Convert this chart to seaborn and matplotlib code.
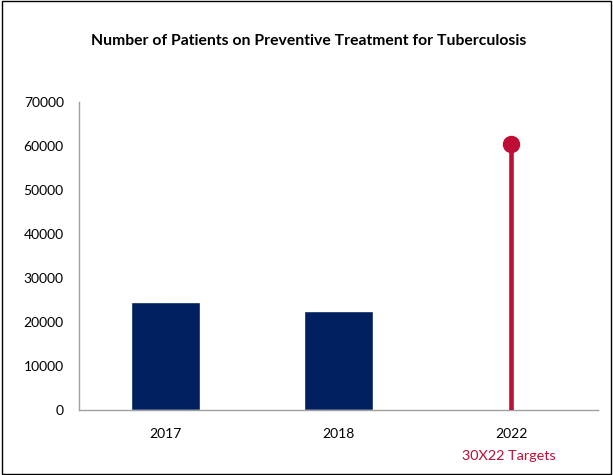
import pandas as pd
import matplotlib.pyplot as plt
import seaborn as sns
import numpy as np
from matplotlib.patches import Rectangle

# data
years = ['2017', '2018', '2022']
patients = [24700, 22600, np.nan]
target_year = '2022'
target_value = 60500
yticks = [0, 10000, 20000, 30000, 40000, 50000, 60000, 70000]

navy = '#002060'
red = '#C00D35'

sns.set_style('white')
plt.rcParams['font.family'] = ['Lato', 'DejaVu Sans']

df = pd.DataFrame({'year': years, 'patients': patients})

fig = plt.figure(figsize=(6.13, 4.75), dpi=100)
ax = fig.add_axes([0.129, 0.136, 0.8465, 0.6485])

sns.barplot(data=df, x='year', y='patients', order=years, color=navy,
            width=0.4, saturation=1, ax=ax)

# target lollipop
xi = years.index(target_year)
ax.vlines(xi, 0, target_value, color=red, linewidth=3.3, zorder=3)
sns.scatterplot(x=[xi], y=[target_value], color=red, s=135, ax=ax,
                zorder=4, edgecolor=red, legend=False)

ax.set_xlim(-0.5, 2.5)
ax.set_ylim(0, 70000)
ax.set_yticks(yticks)
ax.set_yticklabels([str(v) for v in yticks], fontsize=10)
ax.set_xticks(range(len(years)))
ax.set_xticklabels(years, fontsize=10)
ax.set_xticks([-0.5, 0.5, 1.5, 2.5], minor=True)
ax.tick_params(axis='x', which='major', length=0, pad=13, labelcolor='black')
ax.tick_params(axis='x', which='minor', length=4, color='#A0A0A0', width=1)
ax.tick_params(axis='y', length=3, color='#A0A0A0', width=1, pad=8, labelcolor='black')
ax.set_xlabel('')
ax.set_ylabel('')

for s in ['top', 'right']:
    ax.spines[s].set_visible(False)
for s in ['left', 'bottom']:
    ax.spines[s].set_color('#A0A0A0')
    ax.spines[s].set_linewidth(1)

fig.text(0.503, 0.914, 'Number of Patients on Preventive Treatment for Tuberculosis',
         ha='center', va='center', fontsize=11.3, fontweight='bold', color='black')
fig.text(509 / 613, 1 - 456 / 475, '30X22 Targets', ha='center', va='center',
         fontsize=10.4, color=red)

fig.patches.append(Rectangle((0.003, 0.003), 0.994, 0.994, transform=fig.transFigure,
                             fill=False, edgecolor='black', linewidth=1))

fig.savefig('out.png', dpi=100)
